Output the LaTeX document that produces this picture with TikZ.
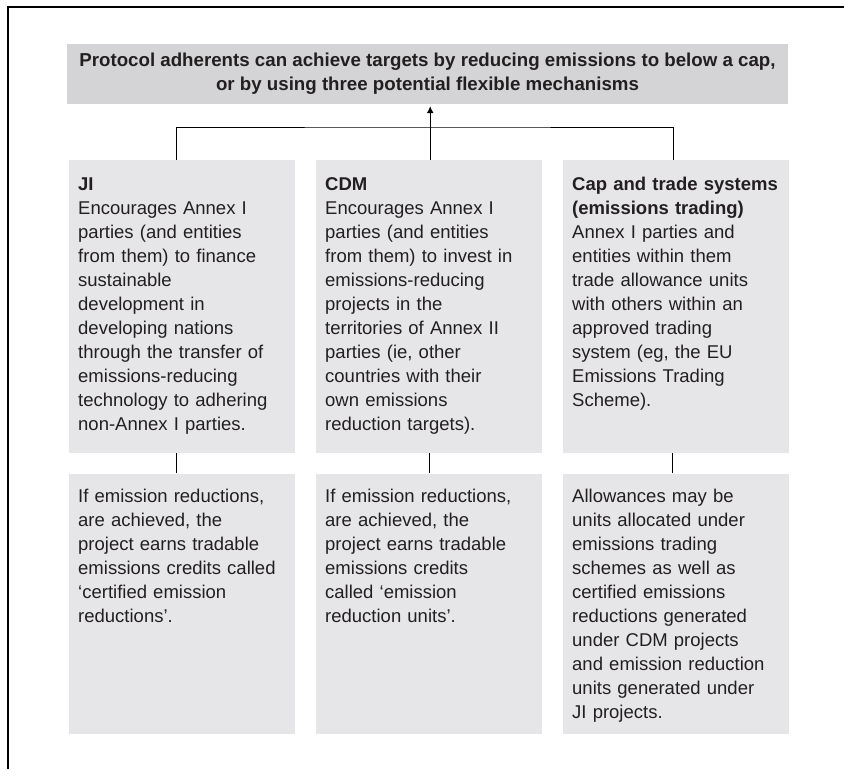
\documentclass[tikz,border=0pt]{standalone}
\usepackage{fontspec}
\setmainfont{Liberation Sans}
\usepackage{xcolor}
\usetikzlibrary{positioning, arrows.meta}
\definecolor{headgray}{HTML}{D4D4D6}
\definecolor{boxgray}{HTML}{E6E6E8}
\definecolor{inkgray}{HTML}{231F20}

\begin{document}
\begin{tikzpicture}[
    x=1pt, y=-1pt,
    every node/.style={text=inkgray, font=\fontsize{18.5}{24}\selectfont},
    headbox/.style={fill=headgray, minimum width=721pt, minimum height=60pt, align=center, font=\fontsize{18.7}{24}\selectfont\bfseries},
    mechbox/.style={fill=boxgray, anchor=north west, text width=208pt, inner xsep=9pt, inner ysep=0pt, align=left, text height=30pt, text depth=263pt},
    resultbox/.style={mechbox, text height=29pt, text depth=231pt},
    link/.style={draw=black, line width=1pt}
    ]
\useasboundingbox (0,0) rectangle (844,769);
\draw[line width=1.2pt] (8,769) -- (8,7) -- (844,7);

\node[headbox] (title) at (427.5,74) {Protocol adherents can achieve targets by reducing emissions to below a cap,\\or by using three potential flexible mechanisms};

% the three mechanisms
\node[mechbox] (ji) at (69,160) {\textbf{JI}\\
Encourages Annex I\\
parties (and entities\\
from them) to finance\\
sustainable\\
development in\\
developing nations\\
through the transfer of\\
emissions-reducing\\
technology to adhering\\
non-Annex I parties.};
\node[mechbox] (cdm) at (316,160) {\textbf{CDM}\\
Encourages Annex I\\
parties (and entities\\
from them) to invest in\\
emissions-reducing\\
projects in the\\
territories of Annex II\\
parties (ie, other\\
countries with their\\
own emissions\\
reduction targets).};
\node[mechbox] (cap) at (563,160) {\textbf{Cap and trade systems}\\
\textbf{(emissions trading)}\\
Annex I parties and\\
entities within them\\
trade allowance units\\
with others within an\\
approved trading\\
system (eg, the EU\\
Emissions Trading\\
Scheme).};

% what each one earns
\node[resultbox, below=20pt of ji] (jiout) {If emission reductions,\\
are achieved, the\\
project earns tradable\\
emissions credits called\\
`certified emission\\
reductions'.};
\node[resultbox, below=20pt of cdm] (cdmout) {If emission reductions,\\
are achieved, the\\
project earns tradable\\
emissions credits\\
called `emission\\
reduction units'.};
\node[resultbox, below=20pt of cap] (capout) {Allowances may be\\
units allocated under\\
emissions trading\\
schemes as well as\\
certified emissions\\
reductions generated\\
under CDM projects\\
and emission reduction\\
units generated under\\
JI projects.};

\coordinate (hub) at ([xshift=1pt, yshift=33pt]cdm.north);
\draw[link] ([xshift=-6pt]ji.north) |- (hub) -| ([xshift=-3pt]cap.north);
\draw[link, -{Latex[length=7pt,width=7pt]}, shorten >=2pt] ([xshift=1pt]cdm.north) -- ([xshift=1pt]cdm.north |- title.south);

\draw[link] ([xshift=-6pt]ji.south) -- ([xshift=-6pt]jiout.north);
\draw[link] (cdm.south) -- (cdmout.north);
\draw[link] ([xshift=-4pt]cap.south) -- ([xshift=-4pt]capout.north);
\end{tikzpicture}
\end{document}
